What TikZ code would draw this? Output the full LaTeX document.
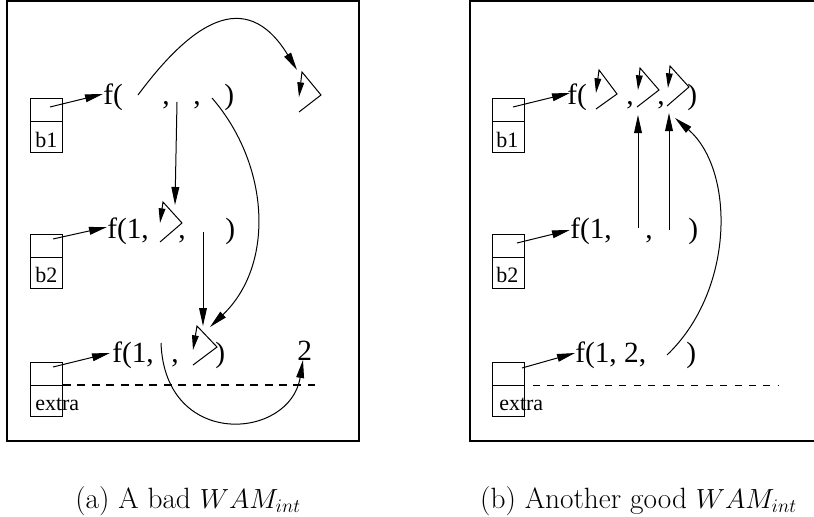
\documentclass[tikz,border=0pt]{standalone}
\usepackage{fontspec}
\setmainfont{Liberation Serif}
\usetikzlibrary{arrows.meta}

% draws the "unbound variable" mark: a > shape whose top end points back down
\newcommand{\selfmark}[5]{%
  \coordinate (#1-bot) at #2;
  \coordinate (#1-rt) at #3;
  \coordinate (#1-top) at #4;
  \coordinate (#1-tip) at #5;
  \draw[markarr] (#1-bot) -- (#1-rt) -- (#1-top) -- (#1-tip);
}

\begin{document}
\begin{tikzpicture}[x=0.75pt,y=-0.75pt,
  big/.style={font=\fontsize{22}{26}\selectfont, inner sep=0pt, anchor=base west},
  small/.style={font=\fontsize{16.5}{20}\selectfont, inner sep=0pt, anchor=base west},
  captext/.style={font=\fontfamily{lmr}\fontsize{22}{26}\selectfont, inner sep=0pt, anchor=base},
  ln/.style={line width=0.75pt},
  arr/.style={ln, -{Triangle[length=13.5pt,width=5.8pt]}},
  markarr/.style={ln, -{Triangle[length=11pt,width=5pt]}},
  panel/.style={line width=1pt},
  celltop/.style={draw, line width=0.6pt, minimum width=24pt, minimum height=17.25pt, inner sep=0pt},
  cellbot/.style={draw, line width=0.6pt, minimum width=24pt, minimum height=23.25pt, inner sep=0pt},
  thickdash/.style={line width=1.1pt, dash pattern=on 6pt off 4.8pt},
  thindash/.style={line width=0.6pt, dash pattern=on 5.2pt off 5.6pt}
]
\clip (0,0) rectangle (814,517);

% ---------------- panel (a) ----------------
\draw[panel] (7,1) rectangle (359,441);

% registers
\node[celltop] (ra1) at (46,109.5) {};
\node[cellbot] (ra1b) at (46,136.5) {};
\node[small] (ra1l) at (35,147) {b1};
\node[celltop] (ra2) at (46,245.5) {};
\node[cellbot] (ra2b) at (46,272.5) {};
\node[small] (ra2l) at (35,282) {b2};
\node[celltop] (ra3) at (46,373.5) {};
\node[cellbot] (ra3b) at (46,400.5) {};
\node[small] (ra3l) at (35,410) {extra};

% terms
\node[big] (La1) at (103,104) {f(};
\node[big] (La2) at (162,104) {,};
\node[big] (La3) at (193,104) {,};
\node[big] (La4) at (224,104) {)};
\node[big] (Lb1) at (107,238) {f(1,};
\node[big] (Lb2) at (178,238) {,};
\node[big] (Lb3) at (225,238) {)};
\node[big] (Lc1) at (112,362) {f(1,};
\node[big] (Lc2) at (171,362) {,};
\node[big] (Lc3) at (215,362) {)};
\node[big] (two) at (297,360) {2};

% unbound cells
\selfmark{S1}{(299,112)}{(321,95)}{(302,72)}{(299,97)}
\selfmark{S2}{(160,242)}{(182,223)}{(163,202)}{(160,223)}
\selfmark{S3}{(193,365)}{(217,347)}{(197,326)}{(193,350)}

% argument slots and targets
\coordinate (a1s) at (138,95);
\coordinate (a1e) at (297,70);
\coordinate (a2s) at (177,102);
\coordinate (a2e) at (175,205);
\coordinate (a3s) at (212,98);
\coordinate (a3e) at (210,327);
\coordinate (b3s) at (203,232);
\coordinate (b3e) at (203,326);
\coordinate (c2s) at (161,343);
\coordinate (c2e) at (303,360);

\draw[arr] (a1s) .. controls (190,25) and (245,-15) .. (a1e);
\draw[arr] (a2s) -- (a2e);
\draw[arr] (a3s) .. controls (270,165) and (275,265) .. (a3e);
\draw[arr] (b3s) -- (b3e);
\draw[arr] (c2s) .. controls (165,450) and (290,440) .. (c2e);

% register pointers
\coordinate (pa1) at (50,107);
\coordinate (pa2) at (53,239);
\coordinate (pa3) at (53,367);
\draw[arr] (pa1) -- (103,94);
\draw[arr] (pa2) -- (107,227);
\draw[arr] (pa3) -- (110,353);

% heap top
\draw[thickdash] (63,385) -- (315,385);

% ---------------- panel (b) ----------------
\draw[panel] (470,1) rectangle (840,441);

\node[celltop] (rb1) at (508.5,109.5) {};
\node[cellbot] (rb1b) at (508.5,136.5) {};
\node[small] (rb1l) at (496,147) {b1};
\node[celltop] (rb2) at (508.5,245.5) {};
\node[cellbot] (rb2b) at (508.5,272.5) {};
\node[small] (rb2l) at (496,282) {b2};
\node[celltop] (rb3) at (508.5,373.5) {};
\node[cellbot] (rb3b) at (508.5,400.5) {};
\node[small] (rb3l) at (499,410) {extra};

\node[big] (Ra1) at (567,104) {f(};
\node[big] (Ra2) at (626,104) {,};
\node[big] (Ra3) at (657,104) {,};
\node[big] (Ra4) at (687,104) {)};
\node[big] (Rb1) at (570,238) {f(1,};
\node[big] (Rb2) at (645,238) {,};
\node[big] (Rb3) at (688,238) {)};
\node[big] (Rc1) at (575,362) {f(1, 2,};
\node[big] (Rc2) at (686,362) {)};

\selfmark{T1}{(596,109)}{(617,94)}{(599,70)}{(596,93)}
\selfmark{T2}{(637,107)}{(659,90)}{(640,68)}{(638,90)}
\selfmark{T3}{(667,106)}{(689,87)}{(670,66)}{(668,88)}

\coordinate (u1s) at (638,228);
\coordinate (u1e) at (638,115);
\coordinate (u2s) at (669,230);
\coordinate (u2e) at (669,113);
\coordinate (u3s) at (667,355);
\coordinate (u3e) at (675,118);
\draw[arr] (u1s) -- (u1e);
\draw[arr] (u2s) -- (u2e);
\draw[arr] (u3s) .. controls (735,290) and (735,170) .. (u3e);

\coordinate (pb1) at (513,107);
\coordinate (pb2) at (517,243);
\coordinate (pb3) at (522,368);
\draw[arr] (pb1) -- (570,93);
\draw[arr] (pb2) -- (570,230);
\draw[arr] (pb3) -- (575,353);

\draw[thindash] (533,385) -- (778,385);

% captions
\node[captext] (capa) at (188,508) {(a) A bad $WAM_{int}$};
\node[captext] (capb) at (638.5,508) {(b) Another good $WAM_{int}$};
\end{tikzpicture}
\end{document}
